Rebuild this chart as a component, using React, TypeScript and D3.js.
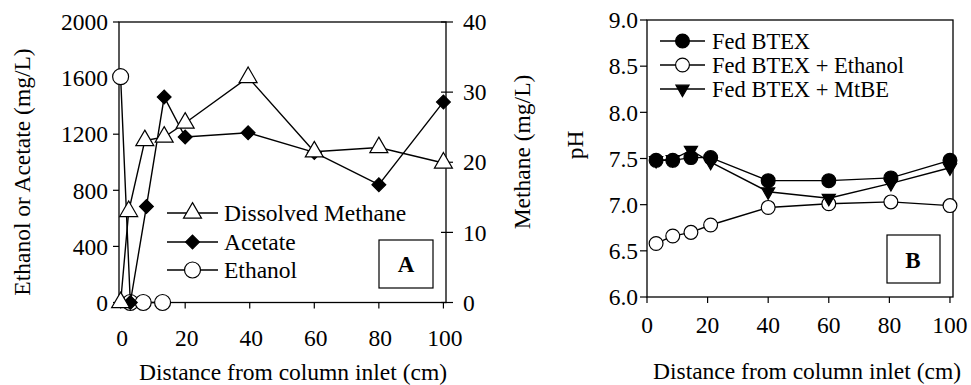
import * as d3 from 'd3';

// Panel A: distance (cm) and concentrations
const methaneDist = [0, 2.5, 7.5, 13.5, 20, 39.5, 60, 80, 100];
const methane = [0, 13, 23.1, 23.6, 25.6, 32.1, 21.5, 22.1, 19.9]; // mg/L, right axis
const acetateDist = [3, 8, 13.5, 20, 39.5, 60, 80, 100];
const acetate = [0, 685, 1465, 1180, 1210, 1070, 840, 1430]; // mg/L, left axis
const ethanolDist = [0, 3, 7, 13];
const ethanol = [1610, 0, 0, 0];

// Panel B: pH
const phDist = [3, 8.5, 14.5, 21, 40, 60, 80.5, 100];
const fedBtex = [7.48, 7.48, 7.51, 7.51, 7.26, 7.26, 7.29, 7.48];
const fedBtexEthanol = [6.58, 6.66, 6.7, 6.78, 6.97, 7.01, 7.03, 6.99];
const fedBtexMtbe = [7.48, 7.49, 7.59, 7.46, 7.14, 7.07, 7.23, 7.4];

const distTicks = [0, 20, 40, 60, 80, 100];
const concTicks = [0, 400, 800, 1200, 1600, 2000];
const methaneTicks = [0, 10, 20, 30, 40];
const phTicks = [6.0, 6.5, 7.0, 7.5, 8.0, 8.5, 9.0];

const FONT = "'Liberation Serif', 'Times New Roman', Times, 'DejaVu Serif', serif";

const xA = d3.scaleLinear().domain([-0.5, 100.8]).range([119, 446]);
const yConc = d3.scaleLinear().domain([0, 2000]).range([302.5, 22]);
const yMeth = d3.scaleLinear().domain([0, 40]).range([302.5, 22]);
const xB = d3.scaleLinear().domain([0, 101]).range([647, 953]);
const yPh = d3.scaleLinear().domain([6, 9]).range([297, 20]);

const triangle = d3.symbol().type(d3.symbolTriangle).size(140)()!;
const diamond = d3.symbol().type(d3.symbolSquare).size(95)()!;
const circleA = d3.symbol().type(d3.symbolCircle).size(200)()!;
const circleB = d3.symbol().type(d3.symbolCircle).size(150)()!;
const downTri = d3.symbol().type(d3.symbolTriangle).size(75)()!;

type Pt = [number, number];
const zip = (xs: number[], ys: number[]): Pt[] => xs.map((x, i) => [x, ys[i]]);
const line = d3.line<Pt>();

function Series({
  pts,
  shape,
  fill,
  rotate = 0,
}: {
  pts: Pt[];
  shape: string;
  fill: string;
  rotate?: number;
}) {
  return (
    <g>
      <path d={line(pts)!} fill="none" stroke="#000" strokeWidth={1.4} />
      {pts.map(([x, y], i) => (
        <path
          key={i}
          d={shape}
          transform={`translate(${x},${y}) rotate(${rotate})`}
          fill={fill}
          stroke="#000"
          strokeWidth={1.2}
        />
      ))}
    </g>
  );
}

function LegendRow({
  x1,
  x2,
  y,
  shape,
  fill,
  rotate = 0,
  label,
  tx,
  size = 23.5,
}: {
  x1: number;
  x2: number;
  y: number;
  shape: string;
  fill: string;
  rotate?: number;
  label: string;
  tx: number;
  size?: number;
}) {
  const mx = (x1 + x2) / 2;
  return (
    <g>
      <line x1={x1} x2={x2} y1={y} y2={y} stroke="#000" strokeWidth={1.4} />
      <path d={shape} transform={`translate(${mx},${y}) rotate(${rotate})`} fill={fill} stroke="#000" strokeWidth={1.2} />
      <text x={tx} y={y} dy="0.35em" fontSize={size}>
        {label}
      </text>
    </g>
  );
}

export default function App() {
  const [aL, aR] = xA.range();
  const [aB, aT] = yConc.range();
  const [bL, bR] = xB.range();
  const [bB, bT] = yPh.range();

  return (
    <svg
      width={971}
      height={385}
      style={{ position: 'absolute', left: 0, top: 0, background: '#fff', fontFamily: FONT }}
    >
      {/* ---------- Panel A ---------- */}
      <rect x={aL} y={aT} width={aR - aL} height={aB - aT} fill="none" stroke="#000" strokeWidth={1.3} />
      {concTicks.map((t) => (
        <g key={'cl' + t}>
          <line x1={aL - 6} x2={aL} y1={yConc(t)} y2={yConc(t)} stroke="#000" strokeWidth={1.2} />
          <text x={aL - 11} y={yConc(t)} dy="0.35em" textAnchor="end" fontSize={23.5}>
            {t}
          </text>
        </g>
      ))}
      {methaneTicks.map((t) => (
        <g key={'mr' + t}>
          <line x1={aR - 5} x2={aR + 7} y1={yMeth(t)} y2={yMeth(t)} stroke="#000" strokeWidth={1.2} />
          <text x={aR + 17} y={yMeth(t)} dy="0.35em" textAnchor="start" fontSize={23.5}>
            {t}
          </text>
        </g>
      ))}
      {distTicks.map((t) => (
        <g key={'xa' + t}>
          <line x1={xA(t)} x2={xA(t)} y1={aB} y2={aB + 6} stroke="#000" strokeWidth={1.2} />
          <text x={xA(t) + 1.5} y={aB + 43} textAnchor="middle" fontSize={23.5}>
            {t}
          </text>
        </g>
      ))}
      <text x={293} y={380} textAnchor="middle" fontSize={23.5}>
        Distance from column inlet (cm)
      </text>
      <text transform="translate(22,172) rotate(-90)" textAnchor="middle" dy="0.35em" fontSize={23.5}>
        Ethanol or Acetate (mg/L)
      </text>
      <text transform="translate(522,152) rotate(-90)" textAnchor="middle" dy="0.35em" fontSize={23.5}>
        Methane (mg/L)
      </text>

      <Series pts={zip(ethanolDist, ethanol).map(([x, y]) => [xA(x), yConc(y)])} shape={circleA} fill="#fff" />
      <Series pts={zip(acetateDist, acetate).map(([x, y]) => [xA(x), yConc(y)])} shape={diamond} fill="#000" rotate={45} />
      <Series pts={zip(methaneDist, methane).map(([x, y]) => [xA(x), yMeth(y)])} shape={triangle} fill="#fff" />

      <LegendRow x1={167} x2={218} y={213} shape={triangle} fill="#fff" label="Dissolved Methane" tx={224} />
      <LegendRow x1={167} x2={218} y={242} shape={diamond} fill="#000" rotate={45} label="Acetate" tx={224} />
      <LegendRow x1={167} x2={218} y={270} shape={circleA} fill="#fff" label="Ethanol" tx={224} />

      <rect x={379} y={240} width={54} height={48} fill="#fff" stroke="#000" strokeWidth={1.2} />
      <text x={406} y={264} dy="0.35em" textAnchor="middle" fontSize={23} fontWeight="bold">
        A
      </text>

      {/* ---------- Panel B ---------- */}
      <rect x={bL} y={bT} width={bR - bL} height={bB - bT} fill="none" stroke="#000" strokeWidth={1.3} />
      {phTicks.map((t) => (
        <g key={'ph' + t}>
          <line x1={bL - 7} x2={bL} y1={yPh(t)} y2={yPh(t)} stroke="#000" strokeWidth={1.2} />
          <text x={bL - 9} y={yPh(t)} dy="0.35em" textAnchor="end" fontSize={23.5}>
            {t.toFixed(1)}
          </text>
        </g>
      ))}
      {distTicks.map((t) => (
        <g key={'xb' + t}>
          <line x1={xB(t)} x2={xB(t)} y1={bB} y2={bB + 6} stroke="#000" strokeWidth={1.2} />
          <text x={xB(t)} y={bB + 36} textAnchor="middle" fontSize={23.5}>
            {t}
          </text>
        </g>
      ))}
      <text x={807} y={379} textAnchor="middle" fontSize={23.5}>
        Distance from column inlet (cm)
      </text>
      <text transform="translate(575,145) rotate(-90)" textAnchor="middle" dy="0.35em" fontSize={23.5}>
        pH
      </text>

      <Series pts={zip(phDist, fedBtexEthanol).map(([x, y]) => [xB(x), yPh(y)])} shape={circleB} fill="#fff" />
      <Series pts={zip(phDist, fedBtexMtbe).map(([x, y]) => [xB(x), yPh(y)])} shape={downTri} fill="#000" rotate={180} />
      <Series pts={zip(phDist, fedBtex).map(([x, y]) => [xB(x), yPh(y)])} shape={circleB} fill="#000" />

      <LegendRow x1={660} x2={705} y={41} shape={circleB} fill="#000" label="Fed BTEX" tx={712} size={22.5} />
      <LegendRow x1={660} x2={705} y={65} shape={circleB} fill="#fff" label="Fed BTEX + Ethanol" tx={712} size={22.5} />
      <LegendRow x1={660} x2={705} y={89} shape={downTri} fill="#000" rotate={180} label="Fed BTEX + MtBE" tx={712} size={22.5} />

      <rect x={887} y={235} width={53} height={48} fill="#fff" stroke="#000" strokeWidth={1.2} />
      <text x={913} y={260} dy="0.35em" textAnchor="middle" fontSize={23} fontWeight="bold">
        B
      </text>
    </svg>
  );
}
